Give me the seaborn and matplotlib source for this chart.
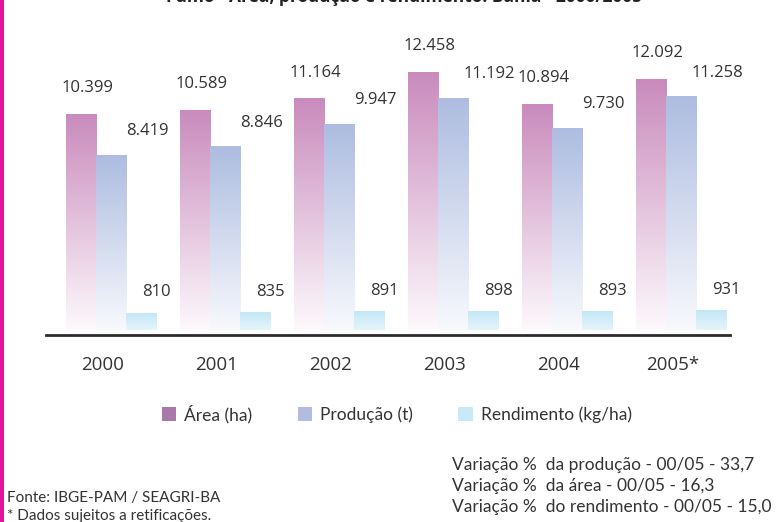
import numpy as np
import pandas as pd
import matplotlib
matplotlib.use('Agg')
import matplotlib.pyplot as plt
from matplotlib.colors import LinearSegmentedColormap
from matplotlib.patches import Patch, Rectangle
import seaborn as sns

# Fumo - Bahia 2000/2005
anos = ['2000', '2001', '2002', '2003', '2004', '2005*']
area = [10399, 10589, 11164, 12458, 10894, 12092]          # ha
producao = [8419, 8846, 9947, 11192, 9730, 11258]          # t
rendimento = [810, 835, 891, 898, 893, 931]                # kg/ha
series = ['Área (ha)', 'Produção (t)', 'Rendimento (kg/ha)']

df = pd.DataFrame({
    'Ano': anos * 3,
    'Serie': [series[0]] * 6 + [series[1]] * 6 + [series[2]] * 6,
    'Valor': area + producao + rendimento,
})

# gradient top/bottom colours and legend colours
top_cols = ['#c98bbd', '#adbce0', '#c3e7f6']
bot_cols = ['#fdf9fc', '#f8f9fd', '#e6f5fb']
leg_cols = ['#a97aa9', '#b0bde1', '#c8eaf8']
lbl_dx = [5, 26, 11]       # label offsets (pt)
lbl_dy = [19, 17.5, 15]

sns.set_style('white')
plt.rcParams['font.family'] = ['Open Sans', 'DejaVu Sans']
txt = '#333333'

fig = plt.figure(figsize=(7.84, 5.22), dpi=100)
ax = fig.add_axes([46 / 784, 187 / 522, 684 / 784, 295 / 522])

sns.barplot(data=df, x='Ano', y='Valor', hue='Serie', palette=top_cols,
            width=0.79, gap=0, legend=False, ax=ax)

shift = 0.07
for i, cont in enumerate(ax.containers):
    cmap = LinearSegmentedColormap.from_list('g%d' % i, [bot_cols[i], top_cols[i]])
    for bar, v in zip(cont, df[df['Serie'] == series[i]]['Valor']):
        bar.set_x(bar.get_x() + shift)
        x0, w, h = bar.get_x(), bar.get_width(), bar.get_height()
        grad = np.linspace(0, 1, 256).reshape(-1, 1)
        ax.imshow(grad, extent=[x0, x0 + w, 0, h], origin='lower',
                  aspect='auto', cmap=cmap, zorder=2)
        bar.set_visible(False)
        ax.annotate(f'{v:,}'.replace(',', '.'), (x0 + w / 2, h),
                    xytext=(lbl_dx[i], lbl_dy[i]), textcoords='offset points',
                    ha='center', va='center', fontsize=12, color=txt)

ax.set_xlim(-0.5, 5.5)
ax.set_ylim(-241, 14010)
for s in ['top', 'right', 'left']:
    ax.spines[s].set_visible(False)
ax.spines['bottom'].set_color('#2b2b2b')
ax.spines['bottom'].set_linewidth(2)
ax.set_yticks([])
ax.set_xlabel('')
ax.set_ylabel('')
ax.set_xticks(np.arange(-0.5, 6, 1))
ax.set_xticklabels([])
ax.tick_params(axis='x', which='major', direction='out', length=5, width=2,
               color='#2b2b2b')
ax.set_xticks(np.arange(6), minor=True)
ax.set_xticklabels(anos, minor=True)
ax.tick_params(axis='x', which='minor', length=0, pad=15, labelsize=13.5,
               labelcolor=txt)

narrow = ['Lato', 'DejaVu Sans']
handles = [Patch(facecolor=c, edgecolor='none') for c in leg_cols]
fig.legend(handles, series, loc='center', bbox_to_anchor=(0.506, 1 - 414 / 522),
           ncol=3, frameon=False, handlelength=0.85, handleheight=0.85,
           handletextpad=0.45, columnspacing=2.6,
           prop={'family': narrow, 'size': 12.5}, labelcolor=txt)

fig.text(0.515, 1 - 2 / 522, 'Fumo - Área, produção e rendimento. Bahia - 2000/2005',
         ha='center', va='baseline', fontsize=12.5, fontweight='bold', color='#222222')

var_lines = ['Variação %  da produção - 00/05 - 33,7',
             'Variação %  da área - 00/05 - 16,3',
             'Variação %  do rendimento - 00/05 - 15,0']
for k, t in enumerate(var_lines):
    fig.text(452 / 784, 1 - (465 + 21 * k) / 522, t, ha='left', va='center',
             family=narrow, fontsize=12.5, color=txt)

fig.text(7 / 784, 1 - 498 / 522, 'Fonte: IBGE-PAM / SEAGRI-BA', ha='left',
         va='center', family=narrow, fontsize=11, color=txt)
fig.text(7 / 784, 1 - 516 / 522, '* Dados sujeitos a retificações.', ha='left',
         va='center', family=narrow, fontsize=11, color=txt)

fig.patches.append(Rectangle((0, 0), 4 / 784, 1, transform=fig.transFigure,
                             facecolor='#e0139b', edgecolor='none'))

fig.savefig('out.png', dpi=100)
